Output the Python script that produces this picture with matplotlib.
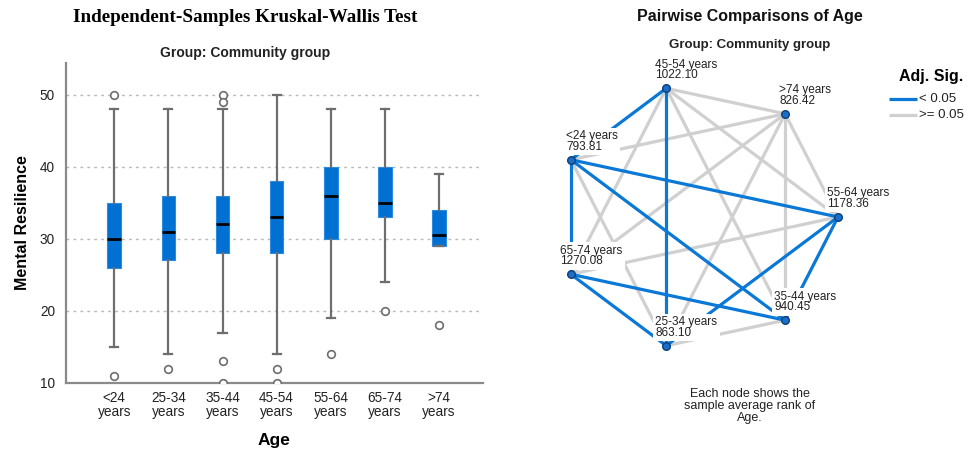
import numpy as np
import matplotlib.pyplot as plt

# ---- left panel data: boxplot stats of Mental Resilience by age group
age_groups = ["<24\nyears", "25-34\nyears", "35-44\nyears", "45-54\nyears",
              "55-64\nyears", "65-74\nyears", ">74\nyears"]
q1 = [26, 27, 28, 28, 30, 33, 29]
median = [30, 31, 32, 33, 36, 35, 30.5]
q3 = [35, 36, 36, 38, 40, 40, 34]
whis_lo = [15, 14, 17, 14, 19, 24, 29]
whis_hi = [48, 48, 48, 50, 48, 48, 39]
outliers = [[50, 11], [12], [50, 49, 13, 10], [12, 10], [14], [20], [18]]

# ---- right panel data: pairwise comparison network
node_names = ["55-64 years", ">74 years", "45-54 years", "<24 years",
              "65-74 years", "25-34 years", "35-44 years"]
mean_ranks = [1178.36, 826.42, 1022.10, 793.81, 1270.08, 863.10, 940.45]
sig_pairs = [("45-54 years", "<24 years"), ("45-54 years", "25-34 years"),
             ("<24 years", "65-74 years"), ("<24 years", "55-64 years"),
             ("<24 years", "35-44 years"), ("55-64 years", "25-34 years"),
             ("55-64 years", "35-44 years"), ("65-74 years", "35-44 years"),
             ("65-74 years", "25-34 years")]
label_dx = {"<24 years": -5, ">74 years": -6}

BLUE = "#0A78D6"
GRAY_EDGE = "#D0D0D0"

fig = plt.figure(figsize=(9.68, 4.51), dpi=100)
plt.rcParams["font.family"] = ["Liberation Sans", "DejaVu Sans"]

# ---------------- boxplot ----------------
ax = fig.add_axes([66 / 968, 1 - 383 / 451, (483 - 66) / 968, (383 - 63) / 451])
stats = []
for i in range(len(age_groups)):
    stats.append(dict(med=median[i], q1=q1[i], q3=q3[i], whislo=whis_lo[i],
                      whishi=whis_hi[i], fliers=outliers[i]))
pos = np.arange(1, len(age_groups) + 1)
ax.bxp(stats, positions=pos, widths=0.25, patch_artist=True, showfliers=True,
       boxprops=dict(facecolor="#0070D2", edgecolor="#2A8BE0", linewidth=0.8),
       medianprops=dict(color="black", linewidth=2),
       whiskerprops=dict(color="#6E6E6E", linewidth=1.6),
       capprops=dict(color="#6E6E6E", linewidth=1.6),
       capwidths=0.15,
       flierprops=dict(marker="o", markersize=5.5, markerfacecolor="white",
                       markeredgecolor="#6E6E6E", markeredgewidth=1.2),
       zorder=3)
ax.set_xlim(0.11, 7.81)
ax.set_ylim(10, 54.4)
ax.set_yticks([10, 20, 30, 40, 50])
ax.set_xticks(pos)
ax.set_xticklabels(age_groups, fontsize=9.8, linespacing=0.95)
ax.tick_params(length=0, labelsize=9.8, colors="#222222")
ax.tick_params(axis="x", pad=6)
ax.tick_params(axis="y", pad=8)
ax.yaxis.grid(True, linestyle=(0, (2, 3)), color="#B8B8B8", linewidth=1)
ax.set_axisbelow(True)
for s in ["top", "right"]:
    ax.spines[s].set_visible(False)
for s in ["left", "bottom"]:
    ax.spines[s].set_color("#8A8A8A")
    ax.spines[s].set_linewidth(1.6)
ax.set_ylabel("Mental Resilience", fontsize=11.5, fontweight="bold", labelpad=7)
ax.set_xlabel("Age", fontsize=12.5, fontweight="bold", labelpad=10)

fig.text(245 / 968, 1 - 18 / 451, "Independent-Samples Kruskal-Wallis Test",
         family=["Liberation Serif", "DejaVu Serif"], fontweight="bold",
         fontsize=13.8, ha="center", va="center")
fig.text(245 / 968, 1 - 53 / 451, "Group: Community group", fontsize=10,
         fontweight="bold", ha="center", va="center", color="#222222")

# ---------------- pairwise network ----------------
ax2 = fig.add_axes([540 / 968, 0, 428 / 968, 1])
ax2.set_xlim(540, 968)
ax2.set_ylim(451, 0)
ax2.axis("off")

cx, cy, rx, ry = 697.5, 217, 140.5, 132
ang = np.arange(len(node_names)) * 2 * np.pi / len(node_names)
nx = cx + rx * np.cos(ang)
ny = cy - ry * np.sin(ang)
sig_set = {frozenset(p) for p in sig_pairs}

for i in range(len(node_names)):
    for j in range(i + 1, len(node_names)):
        is_sig = frozenset((node_names[i], node_names[j])) in sig_set
        ax2.plot([nx[i], nx[j]], [ny[i], ny[j]],
                 color=BLUE if is_sig else GRAY_EDGE,
                 lw=2.3, solid_capstyle="butt", zorder=2 if is_sig else 1)

for i, name in enumerate(node_names):
    dx = label_dx.get(name, -11)
    ax2.text(nx[i] + dx, ny[i] - 7, f"{name}\n{mean_ranks[i]:.2f}",
             fontsize=8.5, ha="left", va="bottom", linespacing=0.85,
             color="#222222", zorder=3,
             bbox=dict(boxstyle="square,pad=0.2", facecolor="white",
                       edgecolor="none"))
ax2.scatter(nx, ny, s=30, color="#1A6FC9", edgecolor="#0B3E7A",
            linewidth=1, zorder=4)

fig.text(750 / 968, 1 - 17 / 451, "Pairwise Comparisons of Age", fontsize=11.5,
         fontweight="bold", ha="center", va="center", color="#111111")
fig.text(750 / 968, 1 - 45 / 451, "Group: Community group", fontsize=9.5,
         fontweight="bold", ha="center", va="center", color="#222222")
fig.text(750 / 968, 1 - 388 / 451,
         "Each node shows the\nsample average rank of\nAge.",
         fontsize=9, ha="center", va="top", linespacing=1.0, color="#222222")

# legend drawn by hand
ax2.text(899, 77, "Adj. Sig.", fontsize=11.5, fontweight="bold",
         ha="left", va="center", clip_on=False)
for yy, col, txt in [(99, BLUE, "< 0.05"), (115, GRAY_EDGE, ">= 0.05")]:
    ax2.plot([889, 917], [yy, yy], color=col, lw=2.3, solid_capstyle="butt")
    ax2.text(919, yy, txt, fontsize=9.5, ha="left", va="center",
             color="#222222", clip_on=False)

fig.savefig("out.png", dpi=100)
